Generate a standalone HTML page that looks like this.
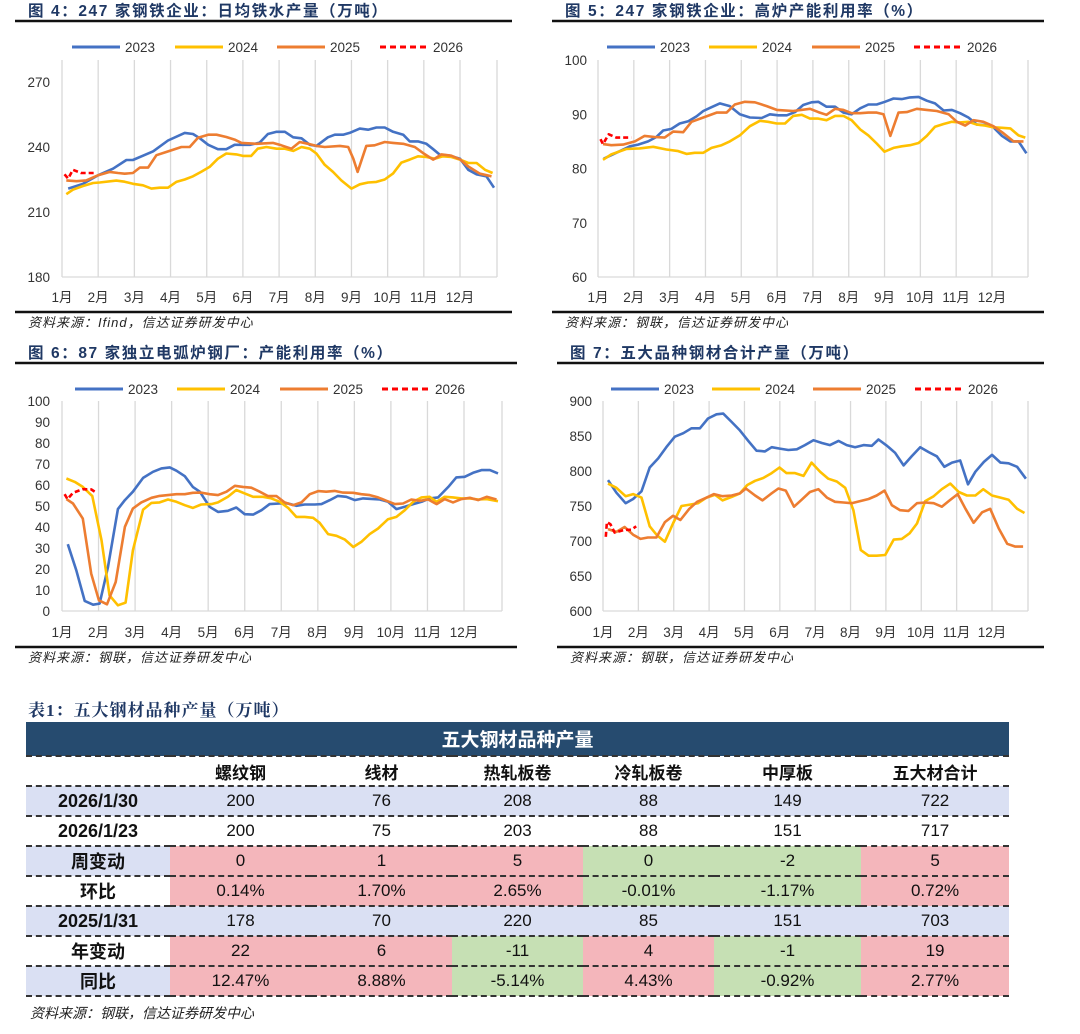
<!DOCTYPE html>
<html><head><meta charset="utf-8">
<style>
body{margin:0;width:1080px;height:1034px;background:#fff;position:relative;overflow:hidden;font-family:"Liberation Sans","Noto Sans CJK SC",sans-serif}
svg{position:absolute;left:0;top:0}
.tt{position:absolute;left:28px;top:696px;font:bold 17px "Liberation Serif","Noto Serif CJK SC",serif;color:#1f3864;letter-spacing:1px}
table{position:absolute;left:26px;top:722px;border-collapse:collapse;width:983px;table-layout:fixed;font-family:"Liberation Sans Narrow","Liberation Sans","Noto Sans CJK SC",sans-serif}
td{text-align:center;height:28px;padding:0;font-size:17px;color:#111;border-bottom:2px dashed #333}
tr.h td{background:#264b6f;color:#fff;font-weight:bold;font-size:19px;height:33px;border-bottom:2px dashed #333}
tr.c td{font-weight:bold;font-size:17px;background:#fff}
td.l{font-weight:bold;font-size:18px}
.b{background:#dae0f3}.p{background:#f4b6bb}.g{background:#c6e0b4}.w{background:#fff}
.src{position:absolute;left:30px;top:1003px;font-size:14px;font-style:italic;color:#222}
</style></head><body>
<svg id="ch" width="1080" height="690"></svg>
<div class="tt">表1：五大钢材品种产量（万吨）</div>
<table>
<colgroup><col style="width:144px"><col style="width:141px"><col style="width:141px"><col style="width:131px"><col style="width:131px"><col style="width:147px"><col style="width:148px"></colgroup>
<tr class="h"><td colspan="7">五大钢材品种产量</td></tr>
<tr class="c"><td></td><td>螺纹钢</td><td>线材</td><td>热轧板卷</td><td>冷轧板卷</td><td>中厚板</td><td>五大材合计</td></tr>
<tr class="b"><td class="l">2026/1/30</td><td>200</td><td>76</td><td>208</td><td>88</td><td>149</td><td>722</td></tr>
<tr><td class="l">2026/1/23</td><td>200</td><td>75</td><td>203</td><td>88</td><td>151</td><td>717</td></tr>
<tr><td class="l b">周变动</td><td class="p">0</td><td class="p">1</td><td class="p">5</td><td class="g">0</td><td class="g">-2</td><td class="p">5</td></tr>
<tr><td class="l w">环比</td><td class="p">0.14%</td><td class="p">1.70%</td><td class="p">2.65%</td><td class="g">-0.01%</td><td class="g">-1.17%</td><td class="p">0.72%</td></tr>
<tr class="b"><td class="l">2025/1/31</td><td>178</td><td>70</td><td>220</td><td>85</td><td>151</td><td>703</td></tr>
<tr><td class="l w">年变动</td><td class="p">22</td><td class="p">6</td><td class="g">-11</td><td class="p">4</td><td class="g">-1</td><td class="p">19</td></tr>
<tr><td class="l b">同比</td><td class="p">12.47%</td><td class="p">8.88%</td><td class="g">-5.14%</td><td class="p">4.43%</td><td class="g">-0.92%</td><td class="p">2.77%</td></tr>
</table>
<div class="src">资料来源：钢联，信达证券研发中心</div>
<script>
const monthLabels=["1月","2月","3月","4月","5月","6月","7月","8月","9月","10月","11月","12月"];
const seriesNames=["2023","2024","2025","2026"];
// Chart 4: daily hot metal output
const c4m23=[0.17,0.58,1.0,1.41,1.78,1.96,2.24,2.52,2.93,3.39,3.62,3.81,4.04,4.31,4.54,4.77,5.19,5.46,5.69,5.93,6.16,6.39,6.62,6.85,7.03,7.35,7.54,7.77,7.95,8.23,8.46,8.69,8.92,9.15,9.43,9.61,9.84,10.07,10.26,10.44,10.72,11.0,11.23,11.46,11.73,11.94];
const c4v23=[220.8,223,227,230,234,234,236,238,243,246.5,246,244,241,239,239,241,241,242,246,247,247,244.5,244,241,240.5,244.5,245.7,245.7,246.5,248.5,248,249,249,247,245.7,242.6,242.6,241.5,239,236.5,236,234.6,229.5,227.4,226.5,221.2];
const c4m24=[0.12,0.3,0.58,0.86,1.04,1.5,1.73,1.96,2.24,2.47,2.7,2.93,3.16,3.39,3.62,3.85,4.08,4.31,4.54,4.82,5.0,5.23,5.41,5.65,5.93,6.16,6.39,6.62,6.85,7.03,7.26,7.49,7.72,8.0,8.23,8.46,8.69,8.92,9.15,9.38,9.61,9.84,10.07,10.3,10.53,10.76,11.0,11.23,11.46,11.69,11.9];
const c4v24=[218.2,220.3,222,223.4,223.6,224.5,224,223,222.3,220.8,221.2,221.2,223.9,225,226.5,228.6,230.8,234.6,237,236.6,235.9,235.9,239.2,240,239.2,239.2,238.2,240,239.2,237,231.8,228.5,224.6,220.8,222.8,223.6,223.9,225,227.8,232.8,234.2,235.7,235.4,234.6,235.7,235.4,234.2,232.6,232.6,229.5,228];
const c4m25=[0.12,0.4,0.67,1.0,1.32,1.55,1.73,1.96,2.15,2.38,2.61,2.88,3.3,3.53,3.76,4.04,4.27,4.54,4.77,4.96,5.37,5.83,6.06,6.34,6.57,6.8,7.03,7.26,7.68,7.91,8.05,8.17,8.41,8.64,8.92,9.15,9.43,9.75,9.98,10.26,10.49,10.76,11.0,11.23,11.55,11.87];
const c4v25=[224.6,224.2,224.6,227,228.5,228,227.7,228,230.5,230.5,236.2,237.7,240,240,244.3,245.7,245.7,244.6,243.4,241.9,241.5,241.9,240.8,239.2,242.3,241.5,240.5,240,240.5,240,234.6,228.5,240.5,240.8,242.3,241.9,241.5,240,237.2,234.2,236.6,236,234.3,231,227.7,226.5];
const c4m26=[0.07,0.17,0.3,0.53,0.95];
const c4v26=[227.4,225.4,229.5,228,228];
const c4ticks=[180,210,240,270];
// Chart 5: BF utilization
const c5m23=[0.16,0.51,0.89,1.12,1.4,1.63,1.82,2.05,2.28,2.52,2.75,2.94,3.17,3.4,3.68,3.96,4.24,4.57,4.8,5.03,5.27,5.5,5.73,5.96,6.15,6.38,6.62,6.85,7.08,7.32,7.55,7.78,8.01,8.25,8.48,8.71,8.95,9.18,9.41,9.65,9.88,10.11,10.34,10.58,10.81,11.04,11.28,11.51,11.74,11.96];
const c5v23=[81.8,82.9,84.1,84.4,85,85.8,87,87.3,88.3,88.7,89.6,90.6,91.3,92,91.5,90,89.4,89.3,90,89.8,89.8,90.4,91.7,92.2,92.3,91.4,91.4,90.3,90,91.1,91.8,91.8,92.3,92.9,92.8,93.1,93.2,92.5,92,90.7,90.8,90.2,89.4,88.1,88,87.6,86,85,85,82.8];
const c5m24=[0.14,0.37,0.79,1.16,1.54,1.91,2.24,2.47,2.7,2.94,3.17,3.45,3.68,3.96,4.24,4.52,4.75,4.99,5.22,5.45,5.69,5.92,6.15,6.38,6.62,6.85,7.08,7.32,7.55,7.78,8.0,8.25,8.48,8.71,8.95,9.18,9.41,9.65,9.88,10.11,10.34,10.58,10.81,11.04,11.28,11.51,11.74,11.93];
const c5v24=[81.6,82.6,83.6,83.7,84,83.5,83.2,82.7,82.9,82.9,83.8,84.3,85,86.1,87.8,88.8,88.6,88.3,88.3,89.7,89.9,89.2,89.2,88.9,89.7,89.7,88.9,87.2,86.1,84.6,83.1,83.8,84.1,84.3,84.7,86,87.7,88.2,88.6,88.5,88.6,88.1,87.9,87.6,87.5,87.4,86.1,85.7];
const c5m25=[0.14,0.37,0.7,1.03,1.3,1.58,1.86,2.1,2.38,2.61,2.94,3.31,3.59,3.82,4.1,4.38,4.71,4.99,5.45,5.92,6.15,6.38,6.62,6.85,7.08,7.32,7.55,7.78,7.97,8.16,8.39,8.62,8.9,9.18,9.46,9.79,10.02,10.25,10.48,10.76,11.04,11.28,11.6,11.88];
const c5v25=[84.5,84.3,84.4,85,86,85.8,85.7,86.8,86.7,88.6,89.4,90.3,90.3,91.8,92.3,92.2,91.5,90.8,90.6,91,90.4,89.9,91,90.8,90.2,90.2,90.3,90.3,90,86,90.3,90.4,91,90.8,90.6,90,88.6,87.9,88.9,88.6,87.8,86.7,85,85];
const c5m26=[0.07,0.14,0.3,0.51,0.93];
const c5v26=[85.4,84.5,86.3,85.7,85.7];
const c5ticks=[60,70,80,90,100];
// Chart 6: EAF utilization
const c6m23=[0.16,0.39,0.62,0.85,1.03,1.26,1.53,1.72,1.94,2.22,2.49,2.72,2.95,3.13,3.36,3.58,3.77,4.04,4.27,4.54,4.77,5.0,5.23,5.46,5.68,5.96,6.19,6.41,6.64,6.92,7.1,7.33,7.55,7.78,8.01,8.24,8.47,8.7,8.92,9.15,9.38,9.61,9.84,10.06,10.29,10.57,10.79,11.02,11.25,11.48,11.71,11.93];
const c6v23=[31.8,19.4,4.8,3,3.5,21,48.5,52.8,56.8,63.4,66.3,67.9,68.4,66.8,64.2,59.1,56.8,49.6,47.2,47.7,49.3,46.1,45.9,48,50.9,51.2,51.2,50.1,50.7,50.7,50.9,52.8,54.8,54.4,52.8,53.6,53.4,53.1,52,48.5,49.6,50.9,52,53.6,54.1,59.1,63.6,63.9,65.8,67.1,67.1,65.5];
const c6m24=[0.12,0.35,0.57,0.83,1.08,1.3,1.53,1.74,1.94,2.22,2.45,2.67,2.9,3.13,3.36,3.58,3.81,4.09,4.27,4.54,4.77,5.0,5.23,5.5,5.73,5.96,6.19,6.41,6.64,6.87,7.05,7.28,7.51,7.74,7.97,8.19,8.42,8.65,8.92,9.15,9.38,9.61,9.84,10.06,10.25,10.47,10.7,10.93,11.16,11.39,11.62,11.93];
const c6v24=[63.1,61.5,59.1,54.7,33.7,7.5,2.7,4,28.9,48.3,51.5,51.7,53.1,52,50.4,49.1,50.7,50.9,51.7,54.4,57.6,56,54.4,54.4,53.6,52,49.1,44.8,44.8,44.4,42,36.6,35.8,34,30.5,32.9,36.6,39.3,43.7,44.8,48,52,54.1,54.4,52,54.4,54.1,53.6,53.6,53.1,53.3,52.3];
const c6m25=[0.12,0.3,0.57,0.8,1.01,1.23,1.47,1.72,1.94,2.17,2.45,2.67,2.9,3.13,3.36,3.58,3.81,4.04,4.27,4.5,4.73,4.95,5.18,5.41,5.64,5.87,6.09,6.32,6.55,6.78,7.01,7.23,7.46,7.69,7.97,8.19,8.42,8.65,8.88,9.11,9.33,9.56,9.79,10.02,10.25,10.47,10.7,10.93,11.16,11.39,11.62,11.89];
const c6v25=[53.3,51.2,44,17.8,5.1,3.2,13.8,40.1,48.8,51.7,53.9,54.8,55.2,55.6,55.6,56.3,56.4,55.6,55.2,56.8,59.6,59.1,58.7,56.8,54.7,54.7,51.7,50.4,51.7,55.6,57.1,56.8,57.2,56.4,56.3,55.6,55.2,54.1,52.5,50.9,51.2,53.1,52.5,53.1,50.9,53.3,51.7,53.3,53.9,52.8,54.4,53.1];
const c6m26=[0.07,0.15,0.3,0.57,0.8,0.94];
const c6v26=[55.6,53.3,56.3,58,57.9,56.3];
const c6ticks=[0,10,20,30,40,50,60,70,80,90,100];
// Chart 7: five major steel output
const c7m23=[0.14,0.38,0.64,0.85,1.09,1.32,1.56,1.79,2.03,2.27,2.5,2.74,2.97,3.21,3.4,3.64,3.87,4.11,4.34,4.58,4.77,5.0,5.24,5.48,5.71,5.95,6.19,6.42,6.66,6.89,7.13,7.37,7.6,7.79,8.03,8.26,8.5,8.73,8.97,9.21,9.44,9.65,9.87,10.1,10.32,10.53,10.77,11.0,11.24,11.47,11.71,11.96];
const c7v23=[787,769,754,760,771,805,818,834,849,854,861,861,875,881,882,870,858,843,829,828,834,832,830,831,837,844,840,837,843,837,834,837,836,845,836,826,808,821,834,827,821,806,812,815,781,799,813,823,812,811,806,789];
const c7m24=[0.14,0.38,0.64,0.85,1.09,1.32,1.53,1.75,1.98,2.22,2.46,2.69,2.93,3.17,3.38,3.64,3.87,4.08,4.3,4.53,4.77,4.99,5.19,5.43,5.67,5.9,6.14,6.37,6.61,6.85,7.08,7.29,7.51,7.74,7.98,8.22,8.45,8.67,8.88,9.11,9.35,9.58,9.82,10.06,10.29,10.53,10.75,11.0,11.24,11.47,11.71,11.92];
const c7v24=[782,776,764,767,762,721,708,699,725,750,752,754,762,766,758,763,768,780,786,790,797,805,797,797,793,812,799,789,785,776,744,687,679,679,680,702,703,711,725,757,764,774,782,770,765,765,774,765,762,759,746,740];
const c7m25=[0.14,0.38,0.61,0.85,1.06,1.27,1.51,1.75,1.98,2.19,2.44,2.66,2.93,3.14,3.38,3.64,3.87,4.04,4.3,4.51,4.74,4.96,5.17,5.4,5.62,5.85,6.09,6.33,6.56,6.8,7.03,7.27,7.51,7.74,7.96,8.17,8.4,8.64,8.88,9.11,9.35,9.58,9.8,10.03,10.25,10.48,10.72,10.95,11.19,11.43,11.66,11.88];
const c7v25=[717,713,720,709,703,705,705,727,736,730,746,756,762,767,764,765,768,775,765,758,767,775,772,749,759,770,774,762,756,755,754,757,760,765,772,751,744,743,754,755,754,749,758,767,746,726,741,746,718,696,692,692];
const c7m26=[0.08,0.11,0.21,0.33,0.61,0.8,0.94];
const c7v26=[706,727,724,712,716,716,721];
const c7ticks=[600,650,700,750,800,850,900];

const NS="http://www.w3.org/2000/svg";
const svg=document.getElementById("ch");
function mk(tag,attrs,parent){const e=document.createElementNS(NS,tag);for(const k in attrs)e.setAttribute(k,attrs[k]);(parent||svg).appendChild(e);return e;}
const colors=["#4472c4","#ffc000","#ed7d31","#ff0000"];
const charts=[
 {id:"c4",title:"图 4：247 家钢铁企业：日均铁水产量（万吨）",src:"资料来源：Ifind，信达证券研发中心",x0:62,x11:460,xr:497,vTop:270,yTop:82,vBot:180,yBot:277,ytop:60,ticks:c4ticks,yl:50,lx:[72,175,277,380],ly:47,xlab:302,ml:[c4m23,c4m24,c4m25,c4m26],vl:[c4v23,c4v24,c4v25,c4v26],tl:15,tr:512,u:21,bl:312,sy:327},
 {id:"c5",title:"图 5：247 家钢铁企业：高炉产能利用率（%）",src:"资料来源：钢联，信达证券研发中心",x0:598,x11:992,xr:1028,vTop:100,yTop:60,vBot:60,yBot:277,ytop:60,ticks:c5ticks,yl:587,lx:[607,709,812,914],ly:47,xlab:302,ml:[c5m23,c5m24,c5m25,c5m26],vl:[c5v23,c5v24,c5v25,c5v26],tl:552,tr:1044,u:21,bl:312,sy:327},
 {id:"c6",title:"图 6：87 家独立电弧炉钢厂：产能利用率（%）",src:"资料来源：钢联，信达证券研发中心",x0:62,x11:464,xr:502,vTop:100,yTop:401,vBot:0,yBot:611,ytop:401,ticks:c6ticks,yl:50,lx:[75,177,280,382],ly:389,xlab:637,ml:[c6m23,c6m24,c6m25,c6m26],vl:[c6v23,c6v24,c6v25,c6v26],tl:15,tr:517,u:363,bl:647,sy:662},
 {id:"c7",title:"图 7：五大品种钢材合计产量（万吨）",src:"资料来源：钢联，信达证券研发中心",x0:603,x11:992,xr:1028,vTop:900,yTop:401,vBot:600,yBot:611,ytop:401,ticks:c7ticks,yl:592,lx:[611,712,813,915],ly:389,xlab:637,ml:[c7m23,c7m24,c7m25,c7m26],vl:[c7v23,c7v24,c7v25,c7v26],tl:557,tr:1044,u:363,bl:647,sy:662}
];
charts.forEach(c=>{
 const g=mk("g",{});
 
 
 const sp=(c.x11-c.x0)/11;
 const xs=m=>c.x0+m*sp;
 const ys=v=>c.yBot-(v-c.vBot)*(c.yBot-c.yTop)/(c.vTop-c.vBot);
 const t=mk("text",{x:c.tl+13,y:c.u-5,"font-size":"15.5","font-weight":"bold",fill:"#1f3864","letter-spacing":"1.6"},g);
 t.textContent=c.title;
 
 
 mk("line",{x1:c.tl,x2:c.tr,y1:c.u,y2:c.u,stroke:"#111","stroke-width":2.5},g);
 mk("line",{x1:c.tl,x2:c.tr,y1:c.bl,y2:c.bl,stroke:"#111","stroke-width":2.5},g);
 const s=mk("text",{x:c.tl+13,y:c.sy,"font-size":"13","font-style":"italic",fill:"#222","letter-spacing":"1"},g);
 s.textContent=c.src;
 
 
 const yb=ys(c.vBot);
 for(let i=0;i<12;i++){mk("line",{x1:xs(i),x2:xs(i),y1:c.ytop,y2:yb,stroke:"#d9d9d9","stroke-width":1.3},g);}
 mk("line",{x1:c.xr,x2:c.xr,y1:c.ytop,y2:yb,stroke:"#d9d9d9","stroke-width":1.3},g);
 mk("line",{x1:c.x0,x2:c.xr,y1:yb,y2:yb,stroke:"#d9d9d9","stroke-width":1.3},g);
 c.ticks.forEach(v=>{const e=mk("text",{x:c.yl,y:ys(v)+5,"text-anchor":"end","font-size":"13.5",fill:"#333"},g);e.textContent=v;
  
  });
 monthLabels.forEach((l,i)=>{const e=mk("text",{x:xs(i),y:c.xlab,"text-anchor":"middle","font-size":"13.5",fill:"#333"},g);e.textContent=l;
  
  });
 seriesNames.forEach((n,k)=>{
  const lx=c.lx[k];
  const ll=mk("line",{x1:lx,x2:lx+48,y1:c.ly,y2:c.ly,stroke:colors[k],"stroke-width":3,"stroke-dasharray":k==3?"6,4":"none"},g);
  
  
  const lt=mk("text",{x:lx+53,y:c.ly+5,"font-size":"13.5",fill:"#333"},g);lt.textContent=n;
  
  
  const ms=c.ml[k],vs=c.vl[k];
  const d=ms.map((m,i)=>(i?"L":"M")+xs(m).toFixed(1)+","+ys(vs[i]).toFixed(1)).join("");
  const p=mk("path",{d:d,fill:"none",stroke:colors[k],"stroke-width":2.6,"stroke-linejoin":"round","stroke-dasharray":k==3?"5,3":"none"},g);
  
  
 });
});
</script>
</body></html>
